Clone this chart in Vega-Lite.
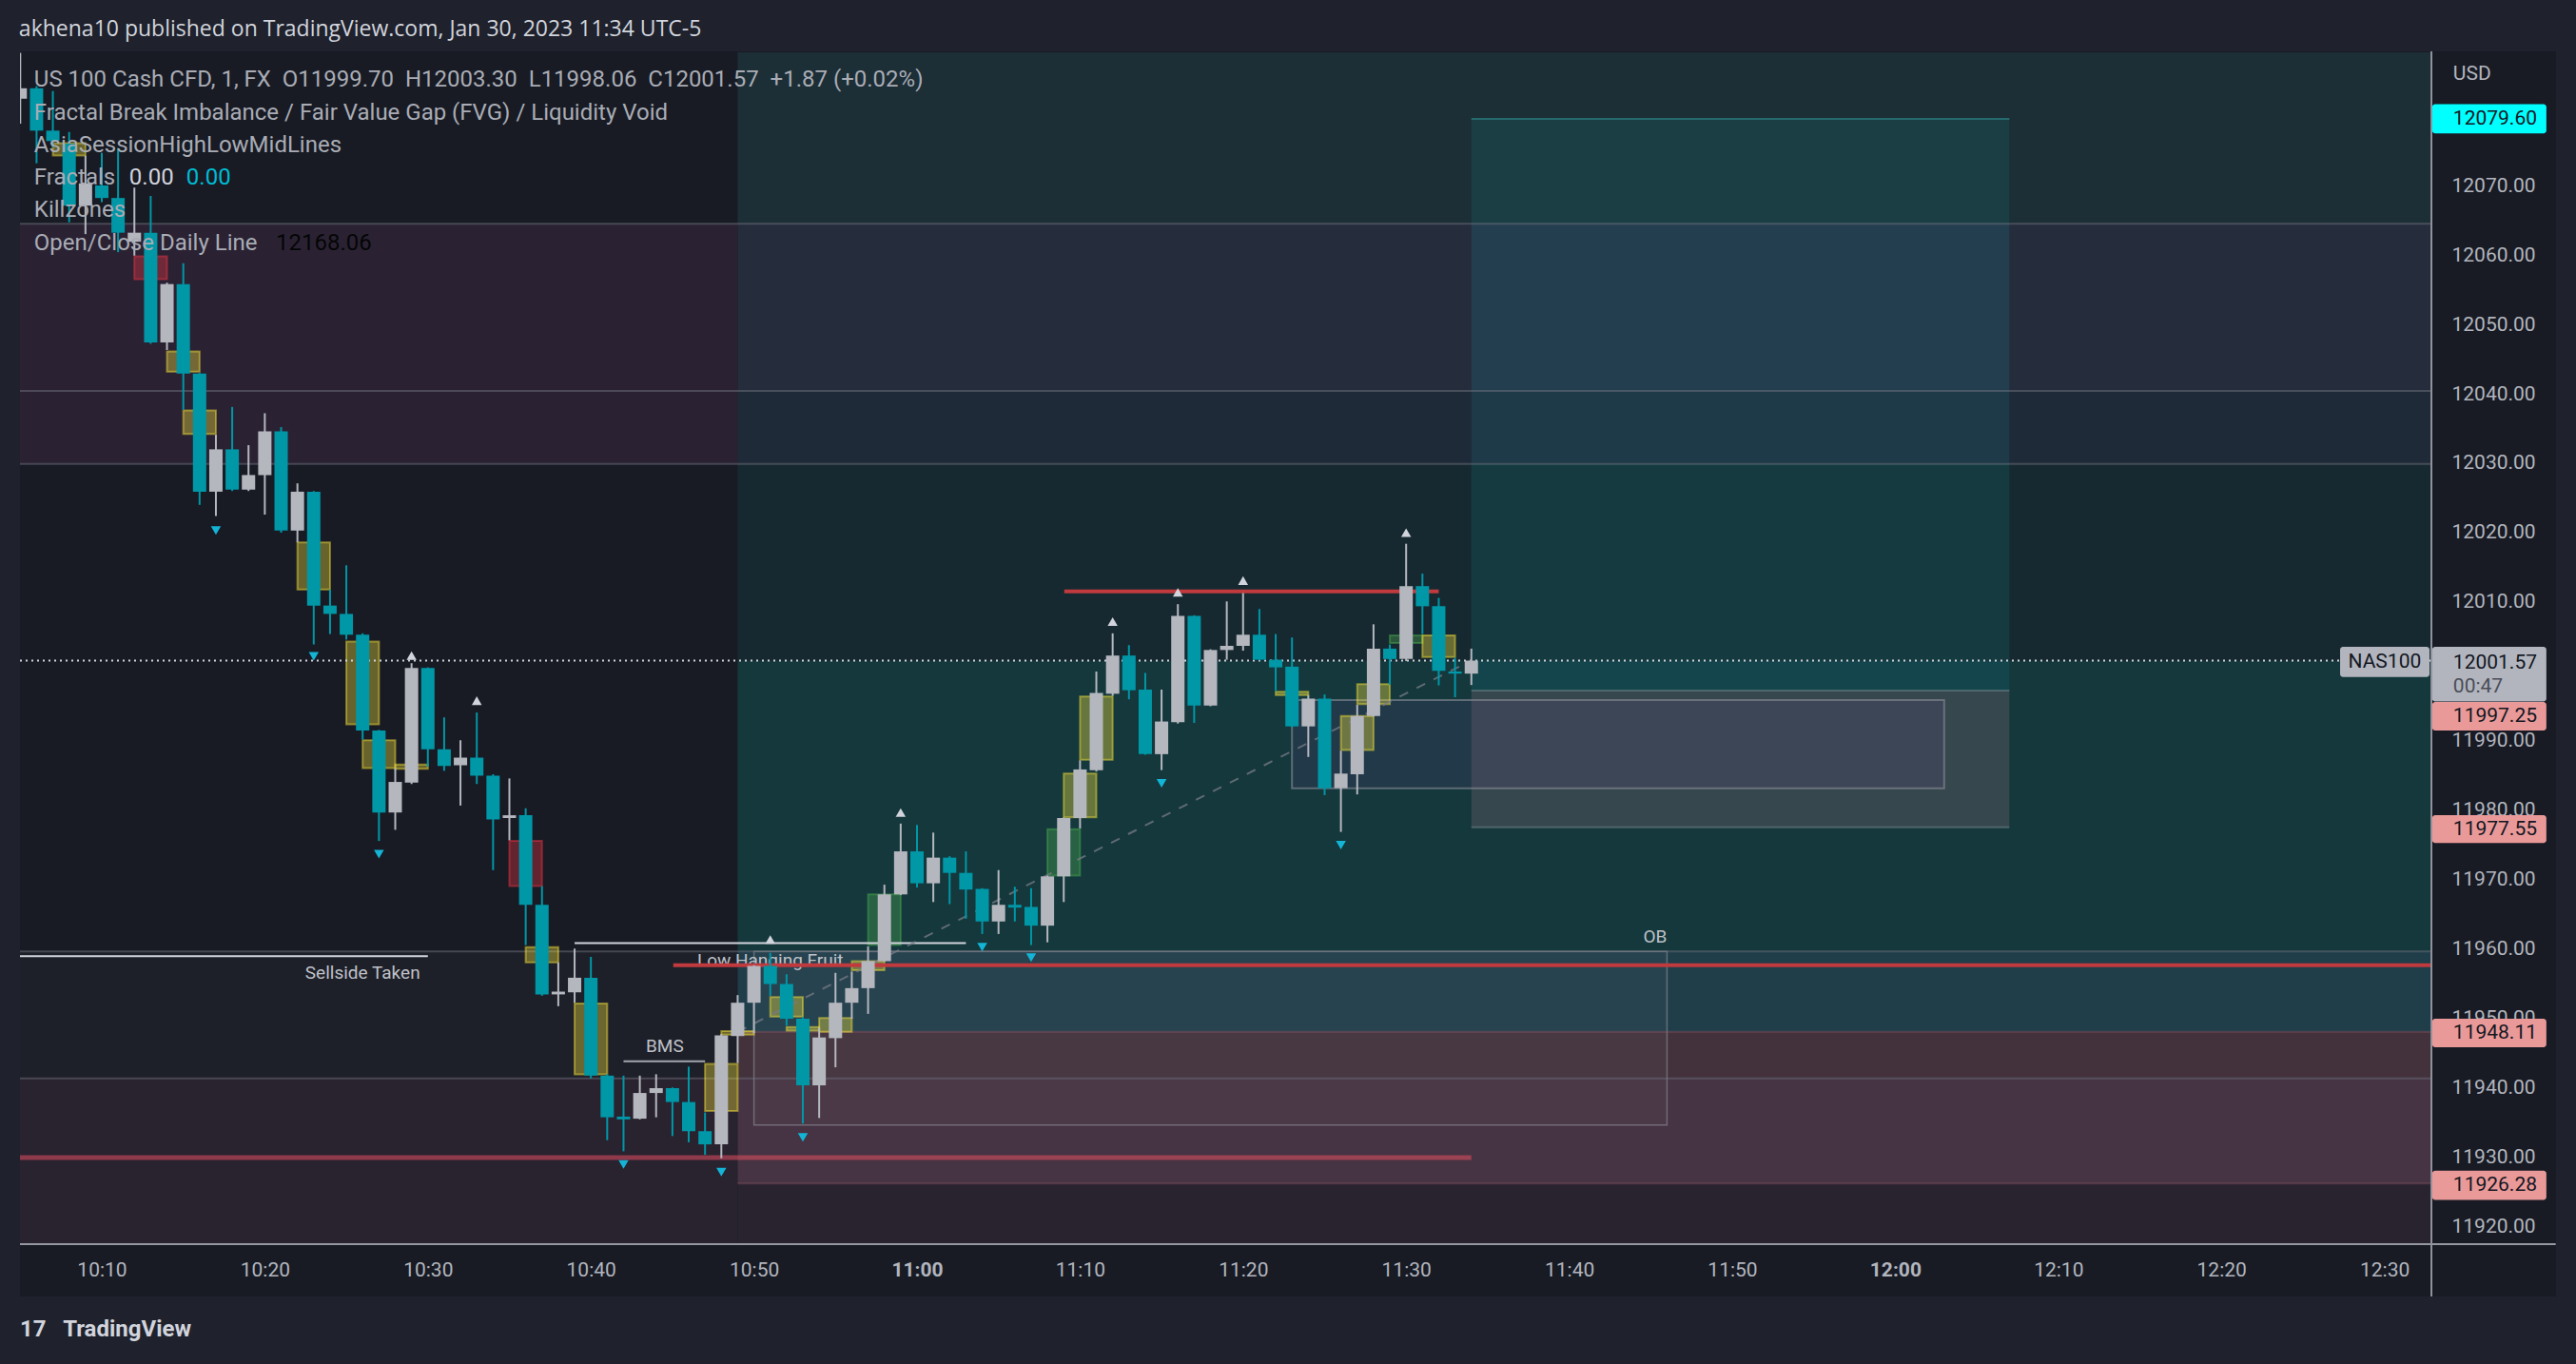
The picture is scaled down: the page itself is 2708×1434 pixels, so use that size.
{
"$schema": "https://vega.github.io/schema/vega-lite/v6.json",
"width": 2535,
"height": 1253,
"autosize": {"type": "none"},
"padding": {"left": 21, "top": 55, "right": 152, "bottom": 126},
"background": "#181b24",
"config": {"view": {"stroke": null}, "font": "Roboto"},
"datasets": {
"candles": [
{"t":"2023-01-30T10:05:00","o":12082.5,"h":12089.1,"l":12078.9,"c":12084.0,"d":"u"},
{"t":"2023-01-30T10:06:00","o":12084.0,"h":12084.3,"l":12073.2,"c":12077.9,"d":"d"},
{"t":"2023-01-30T10:07:00","o":12077.9,"h":12083.6,"l":12075.5,"c":12076.4,"d":"d"},
{"t":"2023-01-30T10:08:00","o":12076.0,"h":12077.7,"l":12064.7,"c":12067.1,"d":"d"},
{"t":"2023-01-30T10:09:00","o":12067.1,"h":12074.3,"l":12063.0,"c":12070.3,"d":"u"},
{"t":"2023-01-30T10:10:00","o":12070.0,"h":12074.7,"l":12067.6,"c":12068.2,"d":"d"},
{"t":"2023-01-30T10:11:00","o":12068.2,"h":12075.4,"l":12060.4,"c":12063.2,"d":"d"},
{"t":"2023-01-30T10:12:00","o":12061.9,"h":12069.7,"l":12059.9,"c":12063.2,"d":"u"},
{"t":"2023-01-30T10:13:00","o":12063.2,"h":12068.5,"l":12047.2,"c":12047.4,"d":"d"},
{"t":"2023-01-30T10:14:00","o":12047.4,"h":12056.0,"l":12046.3,"c":12055.8,"d":"u"},
{"t":"2023-01-30T10:15:00","o":12055.8,"h":12058.8,"l":12037.7,"c":12042.9,"d":"d"},
{"t":"2023-01-30T10:16:00","o":12042.9,"h":12043.0,"l":12024.0,"c":12025.9,"d":"d"},
{"t":"2023-01-30T10:17:00","o":12025.9,"h":12034.1,"l":12022.4,"c":12032.0,"d":"u"},
{"t":"2023-01-30T10:18:00","o":12032.0,"h":12038.1,"l":12026.0,"c":12026.2,"d":"d"},
{"t":"2023-01-30T10:19:00","o":12026.2,"h":12032.6,"l":12026.0,"c":12028.3,"d":"u"},
{"t":"2023-01-30T10:20:00","o":12028.3,"h":12037.2,"l":12022.6,"c":12034.6,"d":"u"},
{"t":"2023-01-30T10:21:00","o":12034.6,"h":12035.2,"l":12020.0,"c":12020.3,"d":"d"},
{"t":"2023-01-30T10:22:00","o":12020.3,"h":12027.1,"l":12018.6,"c":12025.9,"d":"u"},
{"t":"2023-01-30T10:23:00","o":12025.9,"h":12026.0,"l":12003.9,"c":12009.5,"d":"d"},
{"t":"2023-01-30T10:24:00","o":12009.5,"h":12011.8,"l":12005.4,"c":12008.3,"d":"d"},
{"t":"2023-01-30T10:25:00","o":12008.3,"h":12015.3,"l":12004.6,"c":12005.3,"d":"d"},
{"t":"2023-01-30T10:26:00","o":12005.3,"h":12005.5,"l":11990.2,"c":11991.5,"d":"d"},
{"t":"2023-01-30T10:27:00","o":11991.5,"h":11991.6,"l":11975.6,"c":11979.7,"d":"d"},
{"t":"2023-01-30T10:28:00","o":11979.7,"h":11986.1,"l":11977.2,"c":11984.1,"d":"u"},
{"t":"2023-01-30T10:29:00","o":11984.0,"h":12001.2,"l":11983.8,"c":12000.5,"d":"u"},
{"t":"2023-01-30T10:30:00","o":12000.5,"h":12000.6,"l":11986.3,"c":11988.8,"d":"d"},
{"t":"2023-01-30T10:31:00","o":11988.8,"h":11993.4,"l":11985.7,"c":11986.4,"d":"d"},
{"t":"2023-01-30T10:32:00","o":11986.5,"h":11990.1,"l":11980.7,"c":11987.6,"d":"u"},
{"t":"2023-01-30T10:33:00","o":11987.6,"h":11994.1,"l":11983.8,"c":11985.0,"d":"d"},
{"t":"2023-01-30T10:34:00","o":11985.0,"h":11985.2,"l":11971.4,"c":11978.7,"d":"d"},
{"t":"2023-01-30T10:35:00","o":11978.9,"h":11984.6,"l":11975.7,"c":11979.3,"d":"u"},
{"t":"2023-01-30T10:36:00","o":11979.3,"h":11980.3,"l":11960.6,"c":11966.4,"d":"d"},
{"t":"2023-01-30T10:37:00","o":11966.4,"h":11969.1,"l":11953.3,"c":11953.5,"d":"d"},
{"t":"2023-01-30T10:38:00","o":11953.5,"h":11958.1,"l":11951.8,"c":11953.9,"d":"u"},
{"t":"2023-01-30T10:39:00","o":11953.8,"h":11960.1,"l":11952.3,"c":11955.9,"d":"u"},
{"t":"2023-01-30T10:40:00","o":11955.9,"h":11958.9,"l":11941.4,"c":11941.8,"d":"d"},
{"t":"2023-01-30T10:41:00","o":11941.8,"h":11942.0,"l":11932.5,"c":11935.8,"d":"d"},
{"t":"2023-01-30T10:42:00","o":11935.9,"h":11941.8,"l":11930.9,"c":11935.5,"d":"d"},
{"t":"2023-01-30T10:43:00","o":11935.6,"h":11941.8,"l":11935.5,"c":11939.3,"d":"u"},
{"t":"2023-01-30T10:44:00","o":11939.3,"h":11942.0,"l":11935.8,"c":11940.0,"d":"u"},
{"t":"2023-01-30T10:45:00","o":11940.0,"h":11940.1,"l":11933.1,"c":11938.0,"d":"d"},
{"t":"2023-01-30T10:46:00","o":11938.0,"h":11943.1,"l":11932.2,"c":11933.8,"d":"d"},
{"t":"2023-01-30T10:47:00","o":11933.8,"h":11936.5,"l":11930.4,"c":11931.9,"d":"d"},
{"t":"2023-01-30T10:48:00","o":11931.9,"h":11947.8,"l":11929.9,"c":11947.6,"d":"u"},
{"t":"2023-01-30T10:49:00","o":11947.5,"h":11953.4,"l":11943.6,"c":11952.3,"d":"u"},
{"t":"2023-01-30T10:50:00","o":11952.3,"h":11957.7,"l":11947.9,"c":11957.6,"d":"u"},
{"t":"2023-01-30T10:51:00","o":11957.6,"h":11959.5,"l":11953.3,"c":11955.0,"d":"d"},
{"t":"2023-01-30T10:52:00","o":11955.0,"h":11956.4,"l":11949.0,"c":11950.0,"d":"d"},
{"t":"2023-01-30T10:53:00","o":11950.0,"h":11950.2,"l":11934.9,"c":11940.4,"d":"d"},
{"t":"2023-01-30T10:54:00","o":11940.4,"h":11948.7,"l":11935.7,"c":11947.3,"d":"u"},
{"t":"2023-01-30T10:55:00","o":11947.2,"h":11956.6,"l":11943.0,"c":11952.3,"d":"u"},
{"t":"2023-01-30T10:56:00","o":11952.3,"h":11956.8,"l":11950.0,"c":11954.4,"d":"u"},
{"t":"2023-01-30T10:57:00","o":11954.4,"h":11960.4,"l":11950.7,"c":11958.3,"d":"u"},
{"t":"2023-01-30T10:58:00","o":11958.3,"h":11969.3,"l":11958.2,"c":11967.9,"d":"u"},
{"t":"2023-01-30T10:59:00","o":11967.9,"h":11978.1,"l":11967.8,"c":11974.1,"d":"u"},
{"t":"2023-01-30T11:00:00","o":11974.1,"h":11977.9,"l":11968.9,"c":11969.5,"d":"d"},
{"t":"2023-01-30T11:01:00","o":11969.5,"h":11976.8,"l":11966.8,"c":11973.2,"d":"u"},
{"t":"2023-01-30T11:02:00","o":11973.2,"h":11973.4,"l":11966.5,"c":11971.0,"d":"d"},
{"t":"2023-01-30T11:03:00","o":11971.0,"h":11974.1,"l":11964.4,"c":11968.6,"d":"d"},
{"t":"2023-01-30T11:04:00","o":11968.7,"h":11968.8,"l":11962.2,"c":11964.0,"d":"d"},
{"t":"2023-01-30T11:05:00","o":11964.0,"h":11971.4,"l":11962.2,"c":11966.4,"d":"u"},
{"t":"2023-01-30T11:06:00","o":11966.4,"h":11969.0,"l":11964.0,"c":11966.0,"d":"d"},
{"t":"2023-01-30T11:07:00","o":11966.1,"h":11968.8,"l":11960.6,"c":11963.4,"d":"d"},
{"t":"2023-01-30T11:08:00","o":11963.4,"h":11970.6,"l":11961.0,"c":11970.5,"d":"u"},
{"t":"2023-01-30T11:09:00","o":11970.5,"h":11979.0,"l":11966.8,"c":11978.9,"d":"u"},
{"t":"2023-01-30T11:10:00","o":11978.9,"h":11987.2,"l":11977.4,"c":11985.9,"d":"u"},
{"t":"2023-01-30T11:11:00","o":11985.8,"h":12000.0,"l":11985.6,"c":11996.9,"d":"u"},
{"t":"2023-01-30T11:12:00","o":11996.8,"h":12005.5,"l":11996.5,"c":12002.3,"d":"u"},
{"t":"2023-01-30T11:13:00","o":12002.3,"h":12003.8,"l":11996.0,"c":11997.3,"d":"d"},
{"t":"2023-01-30T11:14:00","o":11997.4,"h":11999.8,"l":11988.0,"c":11988.1,"d":"d"},
{"t":"2023-01-30T11:15:00","o":11988.1,"h":11997.4,"l":11985.8,"c":11992.8,"d":"u"},
{"t":"2023-01-30T11:16:00","o":11992.7,"h":12009.7,"l":11992.5,"c":12008.0,"d":"u"},
{"t":"2023-01-30T11:17:00","o":12008.0,"h":12008.1,"l":11992.6,"c":11995.1,"d":"d"},
{"t":"2023-01-30T11:18:00","o":11995.1,"h":12003.2,"l":11995.0,"c":12003.1,"d":"u"},
{"t":"2023-01-30T11:19:00","o":12003.1,"h":12010.1,"l":12001.7,"c":12003.7,"d":"u"},
{"t":"2023-01-30T11:20:00","o":12003.7,"h":12011.3,"l":12003.0,"c":12005.3,"d":"u"},
{"t":"2023-01-30T11:21:00","o":12005.3,"h":12009.0,"l":12001.6,"c":12001.7,"d":"d"},
{"t":"2023-01-30T11:22:00","o":12001.7,"h":12005.4,"l":11997.2,"c":12000.6,"d":"d"},
{"t":"2023-01-30T11:23:00","o":12000.7,"h":12004.9,"l":11992.0,"c":11992.1,"d":"d"},
{"t":"2023-01-30T11:24:00","o":11992.1,"h":11996.6,"l":11987.7,"c":11996.1,"d":"u"},
{"t":"2023-01-30T11:25:00","o":11996.1,"h":11996.7,"l":11982.2,"c":11983.2,"d":"d"},
{"t":"2023-01-30T11:26:00","o":11983.2,"h":11988.6,"l":11976.9,"c":11985.3,"d":"u"},
{"t":"2023-01-30T11:27:00","o":11985.2,"h":11995.2,"l":11982.3,"c":11993.6,"d":"u"},
{"t":"2023-01-30T11:28:00","o":11993.6,"h":12006.8,"l":11993.5,"c":12003.3,"d":"u"},
{"t":"2023-01-30T11:29:00","o":12003.3,"h":12003.9,"l":11998.1,"c":12001.8,"d":"d"},
{"t":"2023-01-30T11:30:00","o":12001.8,"h":12018.4,"l":12001.5,"c":12012.3,"d":"u"},
{"t":"2023-01-30T11:31:00","o":12012.3,"h":12014.1,"l":12005.4,"c":12009.4,"d":"d"},
{"t":"2023-01-30T11:32:00","o":12009.4,"h":12010.6,"l":11998.0,"c":12000.1,"d":"d"},
{"t":"2023-01-30T11:33:00","o":12000.0,"h":12002.0,"l":11996.3,"c":11999.7,"d":"d"},
{"t":"2023-01-30T11:34:00","o":11999.70,"h":12003.30,"l":11998.06,"c":12001.57,"d":"u"}
],
"lines": [
{"t":"2023-01-30T10:04:59","t2":"2023-01-30T12:32:53","p":12064.5,"k":"ses"},
{"t":"2023-01-30T10:04:59","t2":"2023-01-30T12:32:53","p":12040.4,"k":"ses"},
{"t":"2023-01-30T10:04:59","t2":"2023-01-30T12:32:53","p":12029.9,"k":"ses"},
{"t":"2023-01-30T10:04:59","t2":"2023-01-30T12:32:53","p":11959.7,"k":"ses"},
{"t":"2023-01-30T10:04:59","t2":"2023-01-30T12:32:53","p":11941.4,"k":"ses"},
{"t":"2023-01-30T10:49:00","t2":"2023-01-30T12:32:53","p":11948.11,"k":"box"},
{"t":"2023-01-30T10:49:00","t2":"2023-01-30T12:32:53","p":11926.28,"k":"box"},
{"t":"2023-01-30T11:34:00","t2":"2023-01-30T12:07:00","p":12079.6,"k":"ttop"},
{"t":"2023-01-30T11:34:00","t2":"2023-01-30T12:07:00","p":11997.25,"k":"tool"},
{"t":"2023-01-30T11:34:00","t2":"2023-01-30T12:07:00","p":11977.55,"k":"tool"},
{"t":"2023-01-30T10:04:59","t2":"2023-01-30T10:30:00","p":11959.0,"k":"white"},
{"t":"2023-01-30T10:39:00","t2":"2023-01-30T11:03:00","p":11960.9,"k":"white"},
{"t":"2023-01-30T10:42:00","t2":"2023-01-30T10:47:00","p":11943.85,"k":"bms"},
{"t":"2023-01-30T10:04:59","t2":"2023-01-30T11:34:00","p":11930.0,"k":"redA"},
{"t":"2023-01-30T10:45:03","t2":"2023-01-30T12:32:53","p":11957.7,"k":"redB"},
{"t":"2023-01-30T11:09:02","t2":"2023-01-30T11:32:00","p":12011.55,"k":"redB"},
{"t":"2023-01-30T10:04:59","t2":"2023-01-30T12:32:53","p":12001.57,"k":"dot"},
{"t":"2023-01-30T10:04:55","t2":"2023-01-30T12:40:31","p":11917.53,"k":"frame"}
],
"fvg": [
{"t":"2023-01-30T10:07:00","t2":"2023-01-30T10:09:00","p":12074.3,"p2":12076.1,"k":"Y"},
{"t":"2023-01-30T10:12:00","t2":"2023-01-30T10:14:00","p":12056.5,"p2":12059.8,"k":"R"},
{"t":"2023-01-30T10:14:00","t2":"2023-01-30T10:16:00","p":12043.2,"p2":12046.1,"k":"Y"},
{"t":"2023-01-30T10:15:00","t2":"2023-01-30T10:17:00","p":12034.2,"p2":12037.6,"k":"Y"},
{"t":"2023-01-30T10:22:00","t2":"2023-01-30T10:24:00","p":12011.8,"p2":12018.6,"k":"Y"},
{"t":"2023-01-30T10:25:00","t2":"2023-01-30T10:27:00","p":11992.4,"p2":12004.3,"k":"Y"},
{"t":"2023-01-30T10:26:00","t2":"2023-01-30T10:28:00","p":11986.1,"p2":11990.1,"k":"Y"},
{"t":"2023-01-30T10:28:00","t2":"2023-01-30T10:30:00","p":11986.0,"p2":11986.6,"k":"Y"},
{"t":"2023-01-30T10:35:00","t2":"2023-01-30T10:37:00","p":11969.1,"p2":11975.6,"k":"R"},
{"t":"2023-01-30T10:36:00","t2":"2023-01-30T10:38:00","p":11958.1,"p2":11960.3,"k":"Y"},
{"t":"2023-01-30T10:39:00","t2":"2023-01-30T10:41:00","p":11942.0,"p2":11952.2,"k":"Y"},
{"t":"2023-01-30T10:47:00","t2":"2023-01-30T10:49:00","p":11936.7,"p2":11943.5,"k":"Y"},
{"t":"2023-01-30T10:48:00","t2":"2023-01-30T10:50:00","p":11947.7,"p2":11948.2,"k":"Y"},
{"t":"2023-01-30T10:51:00","t2":"2023-01-30T10:53:00","p":11950.3,"p2":11953.1,"k":"Y"},
{"t":"2023-01-30T10:52:00","t2":"2023-01-30T10:54:00","p":11948.3,"p2":11948.8,"k":"Y"},
{"t":"2023-01-30T10:54:00","t2":"2023-01-30T10:56:00","p":11948.1,"p2":11950.1,"k":"Y"},
{"t":"2023-01-30T10:56:00","t2":"2023-01-30T10:58:00","p":11957.0,"p2":11958.3,"k":"Y"},
{"t":"2023-01-30T10:57:00","t2":"2023-01-30T10:59:00","p":11960.6,"p2":11967.9,"k":"G"},
{"t":"2023-01-30T11:08:00","t2":"2023-01-30T11:10:00","p":11970.6,"p2":11977.3,"k":"G"},
{"t":"2023-01-30T11:09:00","t2":"2023-01-30T11:11:00","p":11979.0,"p2":11985.3,"k":"Y"},
{"t":"2023-01-30T11:10:00","t2":"2023-01-30T11:12:00","p":11987.3,"p2":11996.4,"k":"Y"},
{"t":"2023-01-30T11:22:00","t2":"2023-01-30T11:24:00","p":11996.6,"p2":11997.1,"k":"Y"},
{"t":"2023-01-30T11:26:00","t2":"2023-01-30T11:28:00","p":11988.7,"p2":11993.6,"k":"Y"},
{"t":"2023-01-30T11:27:00","t2":"2023-01-30T11:29:00","p":11995.3,"p2":11998.2,"k":"Y"},
{"t":"2023-01-30T11:29:00","t2":"2023-01-30T11:31:00","p":12004.1,"p2":12005.2,"k":"G"},
{"t":"2023-01-30T11:31:00","t2":"2023-01-30T11:33:00","p":12002.1,"p2":12005.2,"k":"Y"}
],
"tri": [
{"t":"2023-01-30T10:29:00","p":12002.3,"d":"u"},
{"t":"2023-01-30T10:33:00","p":11995.8,"d":"u"},
{"t":"2023-01-30T10:51:00","p":11961.4,"d":"u"},
{"t":"2023-01-30T10:59:00","p":11979.7,"d":"u"},
{"t":"2023-01-30T11:12:00","p":12007.2,"d":"u"},
{"t":"2023-01-30T11:16:00","p":12011.4,"d":"u"},
{"t":"2023-01-30T11:20:00","p":12013.1,"d":"u"},
{"t":"2023-01-30T11:30:00","p":12020.0,"d":"u"},
{"t":"2023-01-30T10:17:00","p":12020.3,"d":"d"},
{"t":"2023-01-30T10:23:00","p":12002.2,"d":"d"},
{"t":"2023-01-30T10:27:00","p":11973.7,"d":"d"},
{"t":"2023-01-30T10:42:00","p":11929.0,"d":"d"},
{"t":"2023-01-30T10:48:00","p":11927.9,"d":"d"},
{"t":"2023-01-30T10:53:00","p":11932.9,"d":"d"},
{"t":"2023-01-30T11:04:00","p":11960.3,"d":"d"},
{"t":"2023-01-30T11:07:00","p":11958.8,"d":"d"},
{"t":"2023-01-30T11:15:00","p":11983.9,"d":"d"},
{"t":"2023-01-30T11:26:00","p":11975.0,"d":"d"}
]
},
"encoding": {
"x": {"field": "t", "type": "temporal",
 "scale": {"domain": ["2023-01-30T10:04:59", "2023-01-30T12:32:53"], "nice": false, "padding": 0},
 "axis": {"title": null, "orient": "bottom", "format": "%H:%M",
  "values": ["2023-01-30T10:10:00","2023-01-30T10:20:00","2023-01-30T10:30:00","2023-01-30T10:40:00","2023-01-30T10:50:00","2023-01-30T11:00:00","2023-01-30T11:10:00","2023-01-30T11:20:00","2023-01-30T11:30:00","2023-01-30T11:40:00","2023-01-30T11:50:00","2023-01-30T12:00:00","2023-01-30T12:10:00","2023-01-30T12:20:00","2023-01-30T12:30:00"],
  "labelColor":"#b2b5be", "labelFontSize":21, "labelFont":"Roboto", "ticks":false, "domain":false, "grid":false, "labelPadding":27, "labelBaseline":"middle", "labelFlush":false, "labelOverlap":false,
  "labelFontWeight": {"condition": {"test": "minutes(datum.value) === 0", "value": "bold"}, "value": "normal"}}},
"y": {"field": "p", "type": "quantitative",
 "scale": {"domain": [11917.53, 12089.18], "nice": false, "zero": false, "padding": 0},
 "axis": {"title": null, "orient": "right", "values": [11920,11930,11940,11950,11960,11970,11980,11990,12010,12020,12030,12040,12050,12060,12070], "format": ".2f", "labelColor":"#b2b5be", "labelFontSize":21, "labelFont":"Roboto", "ticks":false, "domain":false, "grid":false, "labelPadding":21, "labelOverlap":false, "labelFlush":false}}
},
"layer": [
{"data": {"values": [
 {"t":"2023-01-30T10:04:59","t2":"2023-01-30T10:49:00","p":12089.18,"p2":12064.5,"z":"dark"},
 {"t":"2023-01-30T10:04:59","t2":"2023-01-30T10:49:00","p":12064.5,"p2":12029.9,"z":"purple"},
 {"t":"2023-01-30T10:04:59","t2":"2023-01-30T10:49:00","p":12029.9,"p2":11959.7,"z":"dark"},
 {"t":"2023-01-30T10:04:59","t2":"2023-01-30T10:49:00","p":11959.7,"p2":11941.4,"z":"session"},
 {"t":"2023-01-30T10:04:59","t2":"2023-01-30T10:49:00","p":11941.4,"p2":11917.53,"z":"purple2"},
 {"t":"2023-01-30T10:49:00","t2":"2023-01-30T12:32:53","p":12089.18,"p2":12064.5,"z":"tTop"},
 {"t":"2023-01-30T10:49:00","t2":"2023-01-30T12:32:53","p":12064.5,"p2":12040.4,"z":"tPur"},
 {"t":"2023-01-30T10:49:00","t2":"2023-01-30T12:32:53","p":12040.4,"p2":12029.9,"z":"tPur2"},
 {"t":"2023-01-30T10:49:00","t2":"2023-01-30T12:32:53","p":12029.9,"p2":12001.57,"z":"tA"},
 {"t":"2023-01-30T10:49:00","t2":"2023-01-30T12:32:53","p":12001.57,"p2":11959.7,"z":"tB"},
 {"t":"2023-01-30T10:49:00","t2":"2023-01-30T12:32:53","p":11959.7,"p2":11948.11,"z":"tSes"},
 {"t":"2023-01-30T10:49:00","t2":"2023-01-30T12:32:53","p":11948.11,"p2":11941.4,"z":"pk1"},
 {"t":"2023-01-30T10:49:00","t2":"2023-01-30T12:32:53","p":11941.4,"p2":11926.28,"z":"pk2"},
 {"t":"2023-01-30T10:49:00","t2":"2023-01-30T12:32:53","p":11926.28,"p2":11917.53,"z":"purple2"},
 {"t":"2023-01-30T11:34:00","t2":"2023-01-30T12:07:00","p":12079.6,"p2":12064.5,"z":"pt1"},
 {"t":"2023-01-30T11:34:00","t2":"2023-01-30T12:07:00","p":12064.5,"p2":12040.4,"z":"pt2"},
 {"t":"2023-01-30T11:34:00","t2":"2023-01-30T12:07:00","p":12040.4,"p2":12029.9,"z":"pt3"},
 {"t":"2023-01-30T11:34:00","t2":"2023-01-30T12:07:00","p":12029.9,"p2":12001.57,"z":"pt4"},
 {"t":"2023-01-30T11:34:00","t2":"2023-01-30T12:07:00","p":12001.57,"p2":11997.25,"z":"pt5"},
 {"t":"2023-01-30T11:34:00","t2":"2023-01-30T12:07:00","p":11997.25,"p2":11977.55,"z":"loss"}]},
 "mark": {"type": "rect"},
 "encoding": {"x2": {"field": "t2"}, "y2": {"field": "p2"},
  "color": {"field": "z", "type": "nominal", "legend": null,
   "scale": {"domain": ["dark","purple","session","purple2","tTop","tPur","tPur2","tA","tB","tSes","pk1","pk2","pt1","pt2","pt3","pt4","pt5","loss"],
    "range": ["#181b24","#2a2233","#1e2029","#29222f","#1c2e36","#252c3c","#1f2a38","#172930","#14383c","#203d4a","#43323b","#463343","#1b3e45","#233f4f","#1e3a48","#153b41","#14454c","#36474d"]}}}},
{"data": {"values": [{"t":"2023-01-30T10:50:00","t2":"2023-01-30T11:46:00","p":11959.7,"p2":11934.7}]},
 "mark": {"type": "rect", "fill": "#ffffff", "fillOpacity": 0.03, "stroke": "#9598a1", "strokeOpacity": 0.55, "strokeWidth": 1.5},
 "encoding": {"x2": {"field": "t2"}, "y2": {"field": "p2"}}},
{"data": {"values": [{"t":"2023-01-30T11:23:00","t2":"2023-01-30T12:03:00","p":11995.9,"p2":11983.2}]},
 "mark": {"type": "rect", "fill": "#6a4090", "fillOpacity": 0.15, "stroke": "#8a8f98", "strokeOpacity": 0.6, "strokeWidth": 2},
 "encoding": {"x2": {"field": "t2"}, "y2": {"field": "p2"}}},
{"data": {"name": "lines"},
 "transform": [{"filter": "datum.k == 'ses' || datum.k == 'box' || datum.k == 'ttop' || datum.k == 'tool'"}],
 "mark": {"type": "rule", "strokeWidth": 2},
 "encoding": {"x2": {"field": "t2"},
  "color": {"field": "k", "type": "nominal", "legend": null,
   "scale": {"domain": ["ses","box","ttop","tool"], "range": ["rgba(120,123,134,0.45)","rgba(160,96,112,0.35)","rgba(40,120,120,0.8)","rgba(138,154,160,0.4)"]}}}},
{"data": {"name": "fvg"},
 "mark": {"type": "rect", "fillOpacity": 0.35, "strokeOpacity": 0.45, "strokeWidth": 2},
 "encoding": {"x2": {"field": "t2"}, "y2": {"field": "p2"},
  "fill": {"field": "k", "type": "nominal", "legend": null, "scale": {"domain": ["Y","G","R"], "range": ["#ffeb3b","#4caf50","#f23645"]}},
  "stroke": {"field": "k", "type": "nominal", "legend": null, "scale": {"domain": ["Y","G","R"], "range": ["#ffeb3b","#4caf50","#f23645"]}}}},
{"data": {"values": [
 {"t":"2023-01-30T10:26:00","p":11956.6,"label":"Sellside Taken"},
 {"t":"2023-01-30T10:44:32","p":11946.0,"label":"BMS"},
 {"t":"2023-01-30T10:51:00","p":11958.4,"label":"Low Hanging Fruit"},
 {"t":"2023-01-30T11:45:16","p":11961.8,"label":"OB"}]},
 "mark": {"type": "text", "align": "center", "baseline": "middle", "fontSize": 19, "color": "#bfc1c8"},
 "encoding": {"text": {"field": "label"}}},
{"data": {"name": "lines"},
 "transform": [{"filter": "datum.k == 'white' || datum.k == 'bms'"}],
 "mark": {"type": "rule", "strokeWidth": 2},
 "encoding": {"x2": {"field": "t2"},
  "color": {"field": "k", "type": "nominal", "legend": null, "scale": {"domain": ["white","bms"], "range": ["#d1d4dc","#a3a6af"]}}}},
{"data": {"name": "lines"},
 "transform": [{"filter": "datum.k == 'redA'"}],
 "mark": {"type": "rule", "strokeWidth": 5, "color": "#e24e60", "opacity": 0.55},
 "encoding": {"x2": {"field": "t2"}}},
{"data": {"name": "lines"},
 "transform": [{"filter": "datum.k == 'redB'"}],
 "mark": {"type": "rule", "strokeWidth": 4, "color": "#c13a3e"},
 "encoding": {"x2": {"field": "t2"}}},
{"data": {"name": "lines"},
 "transform": [{"filter": "datum.k == 'dot'"}],
 "mark": {"type": "rule", "strokeWidth": 2, "color": "#d1d4dc", "strokeDash": [2, 4]},
 "encoding": {"x2": {"field": "t2"}}},
{"data": {"values": [{"t":"2023-01-30T10:49:00","t2":"2023-01-30T11:34:00","p":11948.11,"p2":12001.6}]},
 "mark": {"type": "rule", "strokeWidth": 2, "color": "#787b86", "opacity": 0.75, "strokeDash": [10, 10]},
 "encoding": {"x2": {"field": "t2"}, "y2": {"field": "p2"}}},
{"data": {"name": "candles"},
 "mark": {"type": "rule", "strokeWidth": 2},
 "encoding": {
  "y": {"field": "l", "type": "quantitative"},
  "y2": {"field": "h"},
  "color": {"field": "d", "type": "nominal", "legend": null, "scale": {"domain": ["u","d"], "range": ["#b5b7bf","#0097a7"]}}}},
{"data": {"name": "candles"},
 "mark": {"type": "bar", "size": 14},
 "encoding": {
  "y": {"field": "o", "type": "quantitative"},
  "y2": {"field": "c"},
  "color": {"field": "d", "type": "nominal", "legend": null, "scale": {"domain": ["u","d"], "range": ["#b5b7bf","#0097a7"]}}}},
{"data": {"name": "tri"},
 "mark": {"type": "point", "filled": true, "size": 110, "opacity": 1},
 "encoding": {
  "shape": {"field": "d", "type": "nominal", "legend": null, "scale": {"domain": ["u","d"], "range": ["triangle-up","triangle-down"]}},
  "color": {"field": "d", "type": "nominal", "legend": null, "scale": {"domain": ["u","d"], "range": ["#d1d4dc","#14b4d6"]}}}},
{"data": {"values": [
 {"t":"2023-01-30T10:05:51","p":12085.14,"label":"US 100 Cash CFD, 1, FX\u00a0\u00a0O11999.70\u00a0\u00a0H12003.30\u00a0\u00a0L11998.06\u00a0\u00a0C12001.57\u00a0\u00a0+1.87 (+0.02%)","k":"g"},
 {"t":"2023-01-30T10:05:51","p":12080.48,"label":"Fractal Break Imbalance / Fair Value Gap (FVG) / Liquidity Void","k":"g"},
 {"t":"2023-01-30T10:05:51","p":12075.8,"label":"AsiaSessionHighLowMidLines","k":"g"},
 {"t":"2023-01-30T10:05:51","p":12071.1,"label":"Fractals","k":"g"},
 {"t":"2023-01-30T10:11:41","p":12071.1,"label":"0.00","k":"w"},
 {"t":"2023-01-30T10:15:11","p":12071.1,"label":"0.00","k":"c"},
 {"t":"2023-01-30T10:05:51","p":12066.4,"label":"Killzones","k":"g"},
 {"t":"2023-01-30T10:05:51","p":12061.7,"label":"Open/Close Daily Line","k":"g"},
 {"t":"2023-01-30T10:20:41","p":12061.7,"label":"12168.06","k":"b"}]},
 "mark": {"type": "text", "align": "left", "baseline": "middle", "fontSize": 24},
 "encoding": {"text": {"field": "label"},
  "color": {"field": "k", "type": "nominal", "legend": null, "scale": {"domain": ["g","w","c","b"], "range": ["#a9acb5","#d1d4dc","#00bcd4","#050505"]}}}},
{"data": {"name": "lines"},
 "transform": [{"filter": "datum.k == 'frame'"}],
 "mark": {"type": "rule", "strokeWidth": 2, "color": "#9598a1"},
 "encoding": {"x2": {"field": "t2"}}},
{"data": {"values": [{"t":"2023-01-30T12:32:53","p":12089.3,"p2":11910.0}]},
 "mark": {"type": "rule", "strokeWidth": 2, "color": "#8f929b"},
 "encoding": {"y2": {"field": "p2"}}},
{"data": {"values": [
 {"t":"2023-01-30T12:32:56","t2":"2023-01-30T12:39:56","p":12077.5,"p2":12081.7,"k":"cyan"},
 {"t":"2023-01-30T12:32:56","t2":"2023-01-30T12:39:56","p":11995.68,"p2":12003.56,"k":"gray"},
 {"t":"2023-01-30T12:32:56","t2":"2023-01-30T12:39:56","p":11991.5,"p2":11995.6,"k":"pink"},
 {"t":"2023-01-30T12:32:56","t2":"2023-01-30T12:39:56","p":11975.3,"p2":11979.3,"k":"pink"},
 {"t":"2023-01-30T12:32:56","t2":"2023-01-30T12:39:56","p":11945.9,"p2":11950.0,"k":"pink"},
 {"t":"2023-01-30T12:32:56","t2":"2023-01-30T12:39:56","p":11923.9,"p2":11928.1,"k":"pink"},
 {"t":"2023-01-30T12:27:17","t2":"2023-01-30T12:32:46","p":11999.2,"p2":12003.56,"k":"gray"}]},
 "mark": {"type": "rect", "cornerRadius": 3},
 "encoding": {"x2": {"field": "t2"}, "y2": {"field": "p2"},
  "color": {"field": "k", "type": "nominal", "legend": null, "scale": {"domain": ["cyan","gray","pink"], "range": ["#00ffff","#b2b5be","#ea9999"]}}}},
{"data": {"values": [
 {"t":"2023-01-30T12:34:13","p":12079.6,"label":"12079.60","k":"dark"},
 {"t":"2023-01-30T12:34:13","p":12001.2,"label":"12001.57","k":"dark"},
 {"t":"2023-01-30T12:34:13","p":11997.8,"label":"00:47","k":"dim"},
 {"t":"2023-01-30T12:34:13","p":11993.55,"label":"11997.25","k":"dark"},
 {"t":"2023-01-30T12:34:13","p":11977.3,"label":"11977.55","k":"dark"},
 {"t":"2023-01-30T12:34:13","p":11948.0,"label":"11948.11","k":"dark"},
 {"t":"2023-01-30T12:34:13","p":11926.0,"label":"11926.28","k":"dark"},
 {"t":"2023-01-30T12:34:13","p":12086.0,"label":"USD","k":"usd"}]},
 "mark": {"type": "text", "align": "left", "baseline": "middle", "fontSize": 21},
 "encoding": {"text": {"field": "label"},
  "color": {"field": "k", "type": "nominal", "legend": null, "scale": {"domain": ["dark","dim","usd"], "range": ["#131722","#4a4d57","#b2b5be"]}}}},
{"data": {"values": [{"t":"2023-01-30T12:30:01","p":12001.4,"label":"NAS100"}]},
 "mark": {"type": "text", "align": "center", "baseline": "middle", "fontSize": 21, "color": "#131722"},
 "encoding": {"text": {"field": "label"}}},
{"data": {"values": [
 {"t":"2023-01-30T10:03:00","t2":"2023-01-30T12:45:00","p":12089.3,"p2":12100},
 {"t":"2023-01-30T10:03:00","t2":"2023-01-30T12:45:00","p":11910.0,"p2":11895},
 {"t":"2023-01-30T10:03:00","t2":"2023-01-30T10:04:59","p":11895,"p2":12100},
 {"t":"2023-01-30T12:40:31","t2":"2023-01-30T12:45:00","p":11895,"p2":12100}]},
 "mark": {"type": "rect", "color": "#1f222d"},
 "encoding": {"x2": {"field": "t2"}, "y2": {"field": "p2"}}},
{"data": {"values": [{"t":"2023-01-30T10:04:55","p":12092.5,"label":"akhena10 published on TradingView.com, Jan 30, 2023 11:34 UTC-5"}]},
 "mark": {"type": "text", "align": "left", "baseline": "middle", "fontSize": 23, "font": "Open Sans", "color": "#d1d4dc"},
 "encoding": {"text": {"field": "label"}}},
{"data": {"values": [
 {"t":"2023-01-30T10:04:59","p":11905.2,"label":"17"},
 {"t":"2023-01-30T10:07:37","p":11905.2,"label":"TradingView"}]},
 "mark": {"type": "text", "align": "left", "baseline": "middle", "fontSize": 24, "fontWeight": "bold", "color": "#d1d4dc"},
 "encoding": {"text": {"field": "label"}}}
],
"resolve": {"scale": {"color": "independent", "fill": "independent", "stroke": "independent"}}
}
